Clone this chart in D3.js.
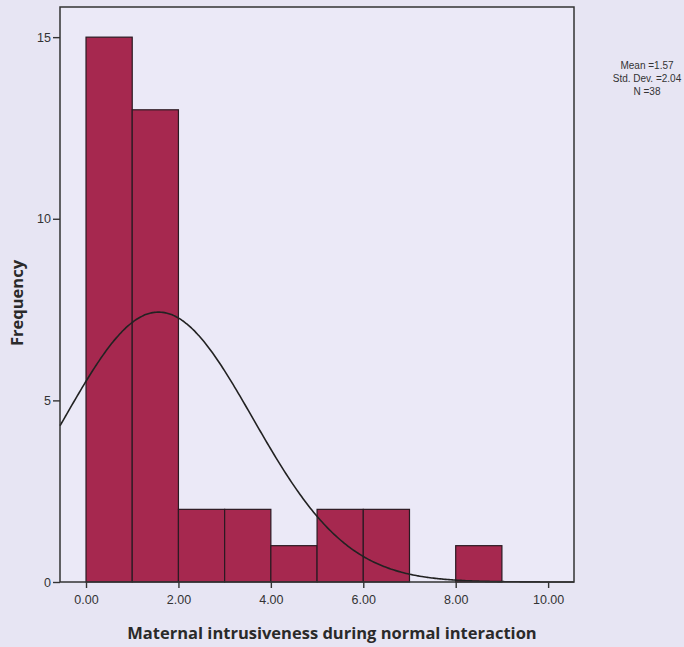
<!DOCTYPE html>
<html>
<head>
<meta charset="utf-8">
<script src="https://cdn.jsdelivr.net/npm/d3@7"></script>
<style>
  html, body { margin: 0; padding: 0; background: #e7e5f3; }
  svg { display: block; }
</style>
</head>
<body>
<script>
// Histogram bins (lower edge, upper edge) and counts
const binStarts = [0, 1, 2, 3, 4, 5, 6, 7, 8];
const binEnds   = [1, 2, 3, 4, 5, 6, 7, 8, 9];
const counts    = [15, 13, 2, 2, 1, 2, 2, 0, 1];
const xTicks = [0, 2, 4, 6, 8, 10];
const yTicks = [0, 5, 10, 15];
const statsLines = ["Mean =1.57", "Std. Dev. =2.04", "N =38"];
const mean = 1.57, sd = 2.04, n = 38, binWidth = 1;

const W = 684, H = 647;
const m = { left: 60, top: 7, right: 110, bottom: 65 };

const svg = d3.select("body").append("svg").attr("width", W).attr("height", H);

const x = d3.scaleLinear().domain([-0.563, 10.56]).range([m.left, W - m.right]);
const y = d3.scaleLinear().domain([0, 15.83]).range([H - m.bottom, m.top]);

// plot background
svg.append("rect")
  .attr("x", x.range()[0]).attr("y", y.range()[1])
  .attr("width", x.range()[1] - x.range()[0])
  .attr("height", y.range()[0] - y.range()[1])
  .attr("fill", "#ebe9f7");

// bars
const bins = binStarts.map((s, i) => ({ s, e: binEnds[i], c: counts[i] })).filter(d => d.c > 0);
svg.append("g").selectAll("rect").data(bins).join("rect")
  .attr("x", d => x(d.s)).attr("width", d => x(d.e) - x(d.s))
  .attr("y", d => y(d.c)).attr("height", d => y(0) - y(d.c))
  .attr("fill", "#a6284f").attr("stroke", "#2a1a22").attr("stroke-width", 1.2);

// normal curve scaled to counts
const [x0, x1] = x.domain();
const pts = d3.range(0, 301).map(i => {
  const v = x0 + (x1 - x0) * i / 300;
  const z = (v - mean) / sd;
  return [v, n * binWidth * Math.exp(-0.5 * z * z) / (sd * Math.sqrt(2 * Math.PI))];
});
svg.append("path").datum(pts)
  .attr("d", d3.line().x(d => x(d[0])).y(d => y(d[1])).curve(d3.curveBasis))
  .attr("fill", "none").attr("stroke", "#222").attr("stroke-width", 1.6);

// frame
svg.append("rect")
  .attr("x", x.range()[0]).attr("y", y.range()[1])
  .attr("width", x.range()[1] - x.range()[0])
  .attr("height", y.range()[0] - y.range()[1])
  .attr("fill", "none").attr("stroke", "#333").attr("stroke-width", 1.5);

// axes
const xAxis = svg.append("g").attr("transform", `translate(0,${y(0)})`)
  .call(d3.axisBottom(x).tickValues(xTicks).tickFormat(d3.format(".2f")).tickSize(6).tickPadding(7));
const yAxis = svg.append("g").attr("transform", `translate(${x.range()[0]},0)`)
  .call(d3.axisLeft(y).tickValues(yTicks).tickSize(7).tickPadding(2));
[xAxis, yAxis].forEach(g => {
  g.select(".domain").remove();
  g.selectAll("line").attr("stroke", "#333").attr("stroke-width", 1.4);
  g.selectAll("text").attr("fill", "#333").style("font-family", "Liberation Sans, Arial, sans-serif").style("font-size", "12.5px");
});

// axis titles
svg.append("text")
  .attr("x", 332).attr("y", 639).attr("text-anchor", "middle")
  .style("font-family", "Open Sans, sans-serif").style("font-weight", "bold").style("font-size", "16.5px")
  .attr("fill", "#2a2a2a")
  .text("Maternal intrusiveness during normal interaction");
svg.append("text")
  .attr("transform", "translate(23,303) rotate(-90)").attr("text-anchor", "middle")
  .style("font-family", "Open Sans, sans-serif").style("font-weight", "bold").style("font-size", "16.5px")
  .attr("fill", "#2a2a2a")
  .text("Frequency");

// summary statistics
svg.append("g").selectAll("text").data(statsLines).join("text")
  .attr("x", 647).attr("y", (d, i) => 69 + i * 13).attr("text-anchor", "middle")
  .style("font-family", "Liberation Sans, Arial, sans-serif").style("font-size", "10px")
  .attr("fill", "#333").text(d => d);
</script>
</body>
</html>
